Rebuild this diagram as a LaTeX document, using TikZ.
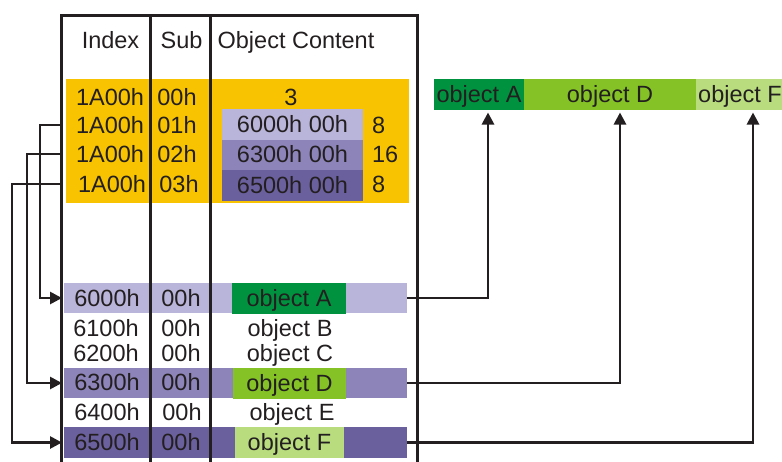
\documentclass[tikz,border=0pt]{standalone}
\usepackage{fontspec}
\setmainfont{Liberation Sans}
\usetikzlibrary{arrows.meta}
\definecolor{orangeC}{HTML}{F8C300}
\definecolor{lavA}{HTML}{B9B4D9}
\definecolor{lavB}{HTML}{8D84BA}
\definecolor{lavC}{HTML}{6B609E}
\definecolor{grA}{HTML}{00923F}
\definecolor{grD}{HTML}{85C226}
\definecolor{grF}{HTML}{B9DD7E}
\definecolor{ink}{HTML}{231F20}
\begin{document}
\begin{tikzpicture}[x=1pt,y=-1pt,
  txt/.style={font=\fontsize{23.5}{24}\selectfont, text=ink, text height=16.5pt, text depth=0pt, inner sep=0pt, outer sep=0pt},
  box/.style={txt, draw=none, minimum width=#1},
  tline/.style={draw=ink, line width=3pt},
  conn/.style={draw=ink, line width=2.7pt, -{Triangle[length=12pt,width=12pt]}},
]
\useasboundingbox (0,0) rectangle (782,461);
% object dictionary block
\node[box=343, fill=orangeC, minimum height=124] (odict) at (237.5,141) {};
% pointer entries
\node[box=141, fill=lavA, minimum height=31] (p1) at (292.5,124) {6000h 00h};
\node[box=141, fill=lavB, minimum height=30] (p2) at (292.5,154.5) {6300h 00h};
\node[box=141, fill=lavC, minimum height=31] (p3) at (292.5,185) {6500h 00h};
% bands of mapped objects
\node[box=343, fill=lavA, minimum height=30] (bandA) at (235.5,298) {};
\node[box=343, fill=lavB, minimum height=30] (bandD) at (235.5,383) {};
\node[box=343, fill=lavC, minimum height=31] (bandF) at (235.5,442.5) {};
\node[box=114, fill=grA, minimum height=31] (objA) at (289,298) {object A};
\node[box=113, fill=grD, minimum height=31] (objD) at (289.5,383) {object D};
\node[box=109, fill=grF, minimum height=31] (objF) at (289.5,442.5) {object F};
% mapped PDO
\node[box=90, fill=grA, minimum height=31] (tA) at (479,94) {object A};
\node[box=172, fill=grD, minimum height=31] (tD) at (610,94) {object D};
\node[box=88, fill=grF, minimum height=31] (tF) at (740,94) {object F};
% header
\node[txt] (hIdx) at (110.5,40) {Index};
\node[txt] (hSub) at (181.5,40) {Sub};
\node[txt] (hObj) at (296,40) {Object Content};
% 1A00h rows
\node[txt] (i0) at (110,97) {1A00h};
\node[txt] (s0) at (177,97) {00h};
\node[txt] (c0) at (291,97) {3};
\node[txt] (i1) at (110,125) {1A00h};
\node[txt] (s1) at (177,125) {01h};
\node[txt, anchor=west] (n1) at (372,125) {8};
\node[txt] (i2) at (110,154) {1A00h};
\node[txt] (s2) at (177,154) {02h};
\node[txt, anchor=west] (n2) at (372,154) {16};
\node[txt] (i3) at (112,184) {1A00h};
\node[txt] (s3) at (179,184) {03h};
\node[txt, anchor=west] (n3) at (372,184) {8};
% lower rows
\node[txt] (iA) at (107,298.5) {6000h};
\node[txt] (sA) at (181,298.5) {00h};
\node[txt] (iB) at (106,328.5) {6100h};
\node[txt] (sB) at (181,328.5) {00h};
\node[txt] (oB) at (290,328.5) {object B};
\node[txt] (iC) at (106,353.5) {6200h};
\node[txt] (sC) at (181,353.5) {00h};
\node[txt] (oC) at (290,353.5) {object C};
\node[txt] (iD) at (107,382.5) {6300h};
\node[txt] (sD) at (181,382.5) {00h};
\node[txt] (iE) at (107,412) {6400h};
\node[txt] (sE) at (182,412) {00h};
\node[txt] (oE) at (292,412) {object E};
\node[txt] (iF) at (107,442) {6500h};
\node[txt] (sF) at (181,442) {00h};
% table lines
\coordinate (TL) at (61,15);
\coordinate (TR) at (417,15);
\coordinate (C1) at (150,15);
\coordinate (C2) at (210,15);
\coordinate (BL) at (61,470);
\coordinate (BR) at (417,470);
\coordinate (B1) at (150,470);
\coordinate (B2) at (210,470);
\draw[tline] (BL) -- (TL) -- (TR) -- (BR);
\draw[tline] (C1) -- (B1);
\draw[tline] (C2) -- (B2);
% left connectors
\coordinate (v1) at (40,0);
\coordinate (v2) at (27,0);
\coordinate (v3) at (12,0);
\draw[conn, shorten >=2pt] (i1 -| TL) -- (i1 -| v1) |- (bandA.west);
\draw[conn, shorten >=2pt] (i2 -| TL) -- (i2 -| v2) |- (bandD.west);
\draw[conn, shorten >=2pt] (i3 -| TL) -- (i3 -| v3) |- (bandF.west);
% right connectors
\draw[conn, shorten >=3pt] (bandA.east) -| ([xshift=9pt]tA.south);
\draw[conn, shorten >=3pt] (bandD.east) -| ([xshift=10pt]tD.south);
\draw[conn, shorten >=3pt] (bandF.east) -| ([xshift=13pt]tF.south);
\end{tikzpicture}
\end{document}
